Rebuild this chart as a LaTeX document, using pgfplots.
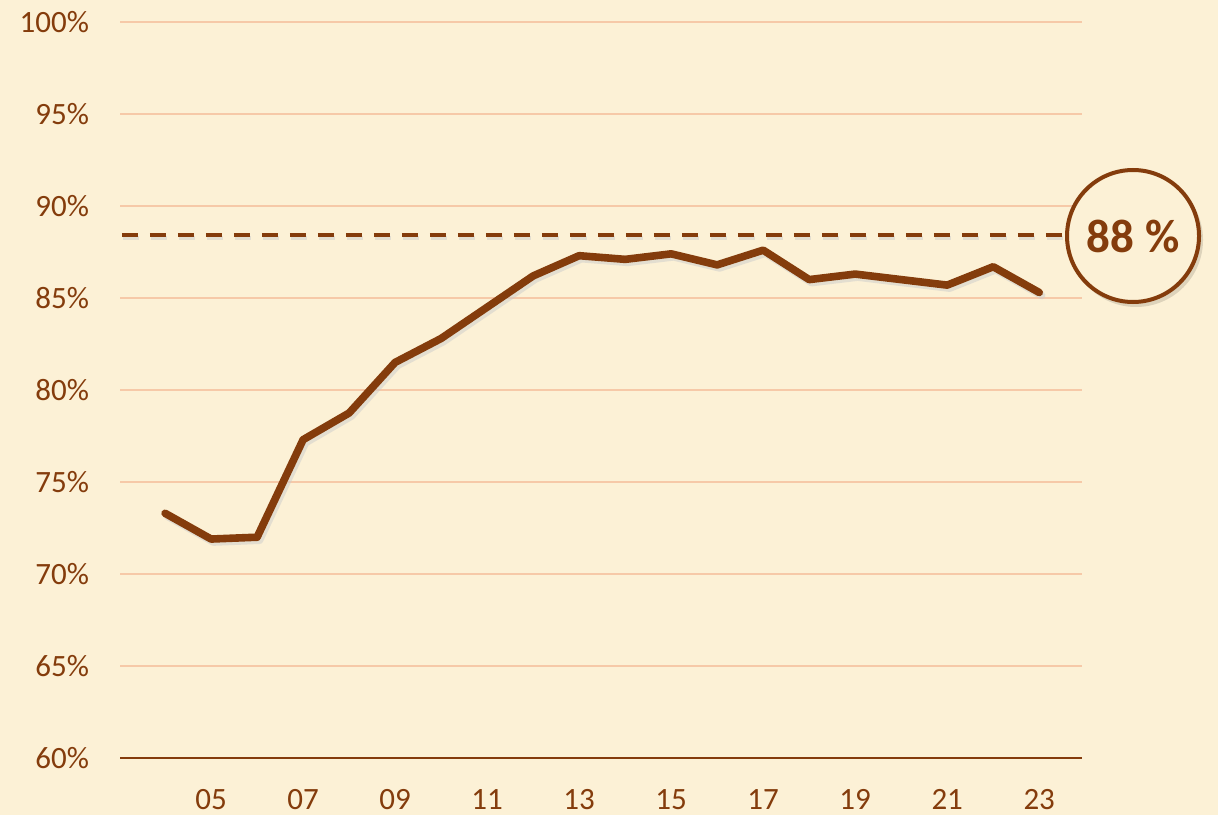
\documentclass[border=0pt]{standalone}
\usepackage{fontspec}
\setmainfont{Carlito}
\usepackage{pgfplots}
\pgfplotsset{compat=1.18}
\definecolor{brn}{HTML}{843C0C}
\definecolor{grd}{HTML}{F6C9A8}
\definecolor{paper}{HTML}{FCF1D6}

\begin{document}
\begin{tikzpicture}
\useasboundingbox (0,0) rectangle (609pt,407.5pt);
\fill[paper] (0,0) rectangle (609pt,407.5pt);
\begin{axis}[
    at={(60pt,28.5pt)}, anchor=south west,
    scale only axis,
    width=481pt, height=368pt,
    xmin=3.02, xmax=23.93,
    ymin=60, ymax=100,
    axis x line*=bottom,
    axis y line*=left,
    y axis line style={draw=none},
    x axis line style={brn, line width=1pt, -},
    xtick={5,7,9,11,13,15,17,19,21,23},
    xticklabels={05,07,09,11,13,15,17,19,21,23},
    ytick={60,65,...,100},
    yticklabel={\pgfmathprintnumber{\tick}\%},
    ymajorgrids,
    major grid style={grd, line width=0.7pt},
    major tick length=0pt,
    tick label style={font=\fontsize{15.5}{18}\selectfont, text=brn},
    /pgf/number format/assume math mode=true,
    xticklabel style={yshift=-12pt},
    yticklabel style={xshift=-12pt},
    clip=false,
]
\addplot[gray!40, opacity=0.5, line width=3.8pt, line join=round, line cap=round, shift={(1.2pt,-1.5pt)}] coordinates {
    (4,73.3) (5,71.9) (6,72.0) (7,77.3) (8,78.75) (9,81.5) (10,82.8)
    (11,84.5) (12,86.2) (13,87.3) (14,87.1) (15,87.4) (16,86.8) (17,87.6)
    (18,86.0) (19,86.3) (20,86.0) (21,85.7) (22,86.7) (23,85.3)
};
\addplot[brn, line width=3.8pt, line join=round, line cap=round] coordinates {
    (4,73.3) (5,71.9) (6,72.0) (7,77.3) (8,78.75) (9,81.5) (10,82.8)
    (11,84.5) (12,86.2) (13,87.3) (14,87.1) (15,87.4) (16,86.8) (17,87.6)
    (18,86.0) (19,86.3) (20,86.0) (21,85.7) (22,86.7) (23,85.3)
};
\addplot[gray!40, opacity=0.5, line width=2pt, dash pattern=on 8pt off 6pt, shift={(0.8pt,-1.5pt)}] coordinates {
    (3.06,88.4) (23.93,88.4)
};
\addplot[brn, line width=2pt, dash pattern=on 8pt off 6pt] coordinates {
    (3.06,88.4) (23.93,88.4)
};
\end{axis}
\fill[black, opacity=0.12] (568pt,287.5pt) circle (33.5pt);
\draw[brn, line width=2pt, fill=paper] (566.5pt,289.5pt) circle (33pt);
\node[text=brn, font=\fontsize{23.5}{28}\selectfont\bfseries] at (566.5pt,289.5pt) {88 \%};
\end{tikzpicture}
\end{document}
